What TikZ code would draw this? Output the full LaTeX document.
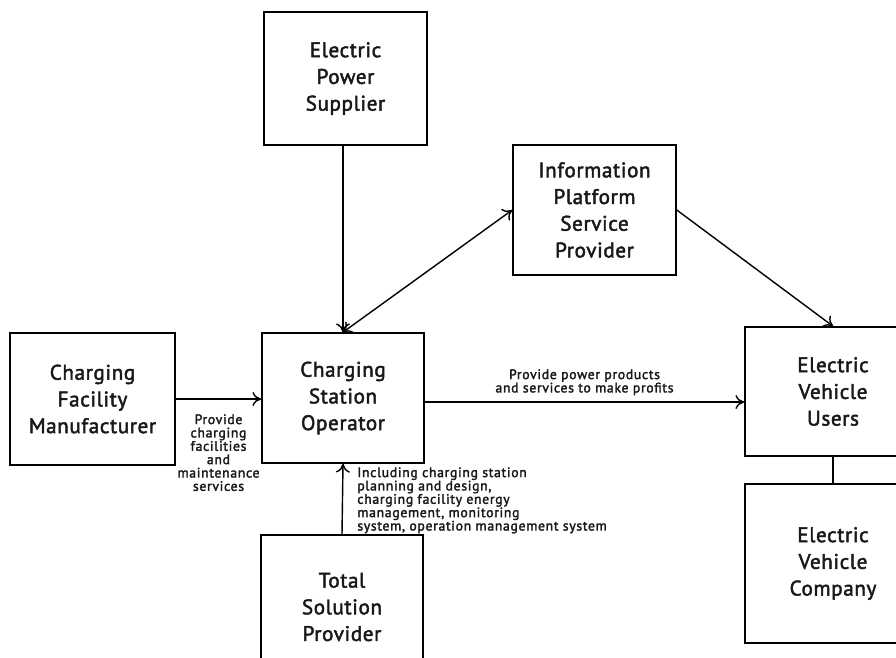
\documentclass[tikz,border=0pt]{standalone}
\usepackage{fontspec}
\setmainfont{PT Sans}[LetterSpace=3, FakeBold=2.2]
\usetikzlibrary{arrows.meta}

\begin{document}
\begin{tikzpicture}[
    x=0.02cm, y=-0.02cm,
    font=\fontsize{12}{15.2}\selectfont,
    actor/.style={draw, line width=0.9pt, rectangle, align=center, text=black!90, inner sep=0pt},
    arrow/.style={-{To[length=5pt,width=8pt]}, line width=0.8pt},
    link/.style={line width=0.8pt},
    note/.style={font=\fontsize{7.8}{7.6}\selectfont\addfontfeatures{LetterSpace=5}, text=black!90, align=center, inner sep=0pt}
]
    \useasboundingbox (0,0) rectangle (896,657);
    \clip (0,0) rectangle (896,657);

    \node[actor, minimum width=163*0.02cm, minimum height=133*0.02cm] (sup) at (345.5,78.5) {Electric\\Power\\Supplier};
    \node[actor, minimum width=163*0.02cm, minimum height=130*0.02cm] (info) at (594.5,210) {Information\\Platform\\Service\\Provider};
    \node[actor, minimum width=165*0.02cm, minimum height=132*0.02cm] (mfr) at (92.5,399) {Charging\\Facility\\Manufacturer};
    \node[actor, minimum width=162*0.02cm, minimum height=130*0.02cm] (op) at (343,398) {Charging\\Station\\Operator};
    \node[actor, minimum width=176*0.02cm, minimum height=129*0.02cm] (users) at (833,391.5) {Electric\\Vehicle\\Users};
    \node[actor, minimum width=176*0.02cm, minimum height=159*0.02cm] (evc) at (833,563.5) {Electric\\Vehicle\\Company};
    \node[actor, minimum width=162*0.02cm, minimum height=144*0.02cm] (tsp) at (342,607) {Total\\Solution\\Provider};

    \draw[arrow] (sup.south -| op.north) -- (op.north);
    \draw[arrow, {To[length=5pt,width=8pt]}-{To[length=5pt,width=8pt]}] (op.north) -- (info.west);
    \draw[arrow] (info.east) -- (users.north);
    \draw[arrow] (mfr.east) -- (mfr.east -| op.west);
    \draw[arrow] ([yshift=-0.08cm]op.east) -- node[note, above=3.5pt] {Provide power products\\and services to make profits} ([yshift=-0.08cm]op.east -| users.west);
    \draw[arrow] (tsp.north) -- (op.south);
    \draw[link] (users.south) -- (evc.north);

    \node[note, anchor=north] (mfrnote) at (218.5,414) {Provide\\charging\\facilities\\and\\maintenance\\services};
    \node[note, anchor=north west, align=left] (tspnote) at (357,467) {Including charging station\\planning and design,\\charging facility energy\\management, monitoring\\system, operation management system};
\end{tikzpicture}
\end{document}
